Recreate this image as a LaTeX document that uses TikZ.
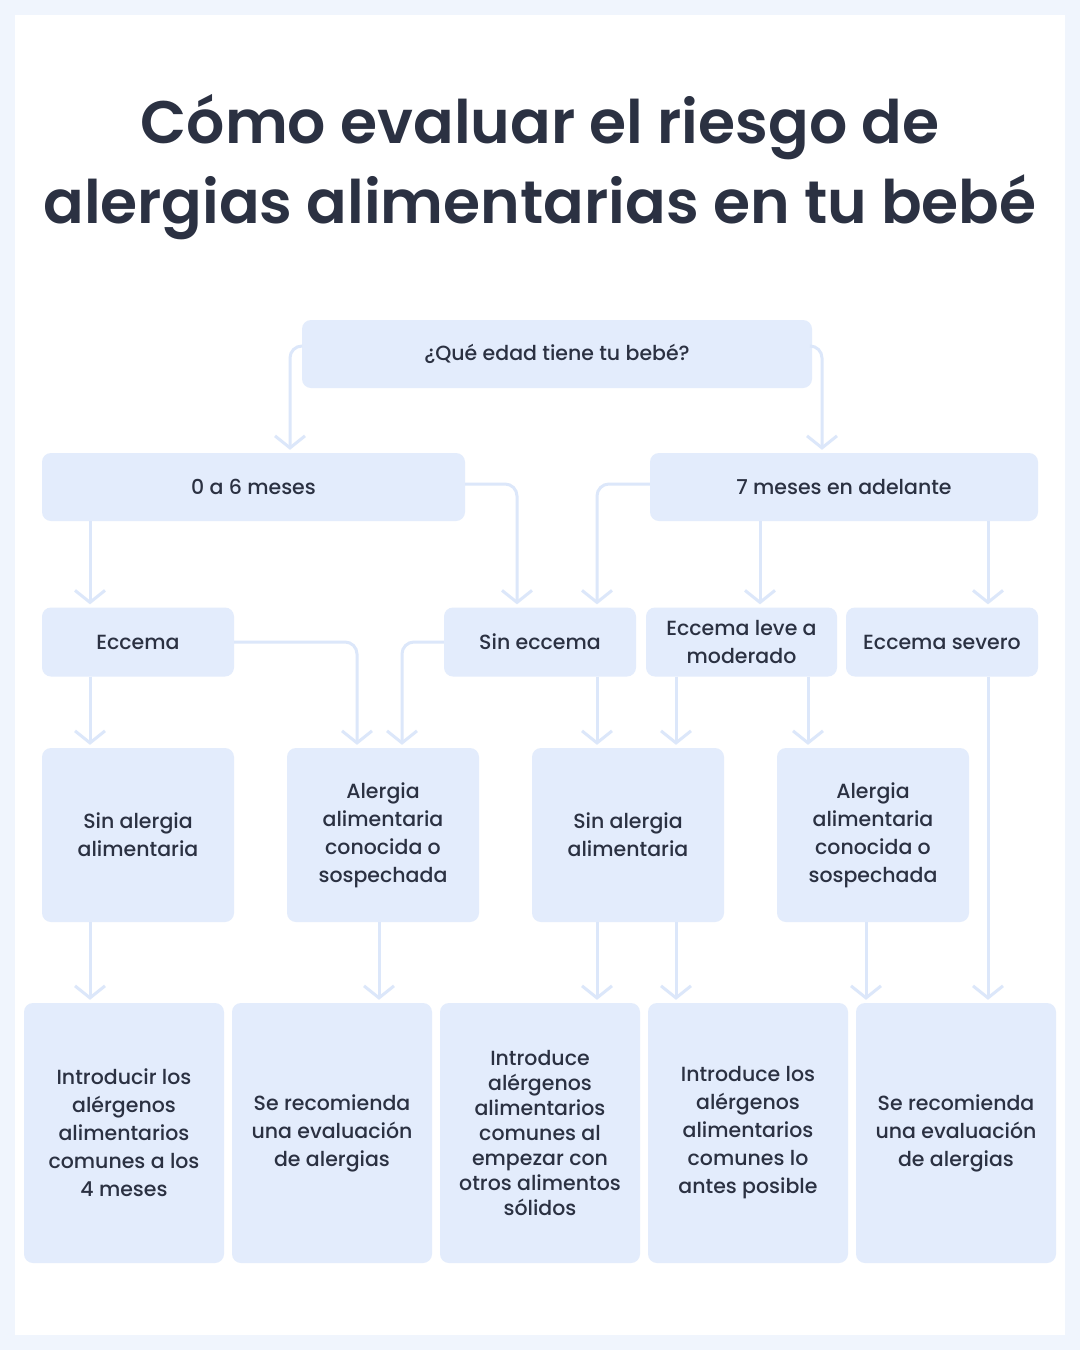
\documentclass[tikz,border=0pt]{standalone}
\usepackage{fontspec}
\setmainfont{Poppins}[UprightFont=* Medium, BoldFont=* SemiBold]
\usetikzlibrary{arrows.meta,calc,positioning}
\definecolor{boxfill}{HTML}{E3ECFC}
\definecolor{linkcol}{HTML}{DCE7FA}
\definecolor{ink}{HTML}{2B3142}
\definecolor{frame}{HTML}{F0F5FD}

\begin{document}
\begin{tikzpicture} [
    x=1pt, y=-1pt,
    box/.style={rectangle, rounded corners=9pt, fill=boxfill, text=ink, align=center,
      inner sep=0pt, font=\fontsize{20.5}{28}\selectfont},
    link/.style={draw=linkcol, line width=3pt, rounded corners=12pt, shorten >=3pt,
      -{Straight Barb[length=12pt,width=30pt]}},
    ]
    %Background
    \fill[frame] (0,0) rectangle (1080,1350);
    \fill[white] (15,15) rectangle (1065,1335);
    \node[text=ink, align=center, font=\fontsize{60}{80}\selectfont\bfseries] (title) at (540,167)
      {Cómo evaluar el riesgo de\\alergias alimentarias en tu bebé};
    %Nodes
    \node[box, minimum width=510pt, minimum height=68pt] (q)   at (557,354)  {¿Qué edad tiene tu bebé?};
    \node[box, minimum width=423pt, minimum height=68pt] (a06) at (253.5,487) {0 a 6 meses};
    \node[box, minimum width=388pt, minimum height=68pt] (a7)  at (844,487)  {7 meses en adelante};
    \node[box, minimum width=192pt, minimum height=69pt] (ecc) at (138,642)  {Eccema};
    \node[box, minimum width=192pt, minimum height=69pt] (sec) at (540,642)  {Sin eccema};
    \node[box, minimum width=191pt, minimum height=69pt] (lev) at (741.5,642) {Eccema leve a\\moderado};
    \node[box, minimum width=192pt, minimum height=69pt] (sev) at (942,642)  {Eccema severo};
    \node[box, minimum width=192pt, minimum height=174pt] (sa1) at (138,835) {Sin alergia\\alimentaria};
    \node[box, minimum width=192pt, minimum height=174pt] (al1) at (383,835) {Alergia\\alimentaria\\conocida o\\sospechada};
    \node[box, minimum width=192pt, minimum height=174pt] (sa2) at (628,835) {Sin alergia\\alimentaria};
    \node[box, minimum width=192pt, minimum height=174pt] (al2) at (873,835) {Alergia\\alimentaria\\conocida o\\sospechada};
    \node[box, minimum width=200pt, minimum height=260pt] (r1) at (124,1133) {Introducir los\\alérgenos\\alimentarios\\comunes a los\\4 meses};
    \node[box, minimum width=200pt, minimum height=260pt] (r2) at (332,1133) {Se recomienda\\una evaluación\\de alergias};
    \node[box, minimum width=200pt, minimum height=260pt, font=\fontsize{20.5}{25}\selectfont] (r3) at (540,1133)
      {Introduce\\alérgenos\\alimentarios\\comunes al\\empezar con\\otros alimentos\\sólidos};
    \node[box, minimum width=200pt, minimum height=260pt] (r4) at (748,1133) {Introduce los\\alérgenos\\alimentarios\\comunes lo\\antes posible};
    \node[box, minimum width=200pt, minimum height=260pt] (r5) at (956,1133) {Se recomienda\\una evaluación\\de alergias};
    %Lines
    \draw[link] ([yshift=8pt]q.west) -| ([xshift=36.5pt]a06.north);
    \draw[link] ([yshift=8pt]q.east) -| ([xshift=-22pt]a7.north);
    \draw[link] ([xshift=-163.5pt]a06.south) -- ([xshift=-48pt]ecc.north);
    \draw[link] ([yshift=3pt]a06.east) -| ([xshift=-23pt]sec.north);
    \draw[link] ([yshift=3pt]a7.west) -| ([xshift=57pt]sec.north);
    \draw[link] ([xshift=-84pt]a7.south) -- ([xshift=18.5pt]lev.north);
    \draw[link] ([xshift=144pt]a7.south) -- ([xshift=46pt]sev.north);
    \draw[link] ([xshift=-48pt]ecc.south) -- ([xshift=-48pt]sa1.north);
    \draw[link] (ecc.east) -| ([xshift=-26pt]al1.north);
    \draw[link] (sec.west) -| ([xshift=19pt]al1.north);
    \draw[link] ([xshift=57pt]sec.south) -- ([xshift=-31pt]sa2.north);
    \draw[link] ([xshift=-65.5pt]lev.south) -- ([xshift=48pt]sa2.north);
    \draw[link] ([xshift=66.5pt]lev.south) -- ([xshift=-65pt]al2.north);
    \draw[link] ([xshift=46pt]sev.south) -- ([xshift=32pt]r5.north);
    \draw[link] ([xshift=-48pt]sa1.south) -- ([xshift=-34pt]r1.north);
    \draw[link] ([xshift=-4pt]al1.south) -- ([xshift=47pt]r2.north);
    \draw[link] ([xshift=-31pt]sa2.south) -- ([xshift=57pt]r3.north);
    \draw[link] ([xshift=48pt]sa2.south) -- ([xshift=-72pt]r4.north);
    \draw[link] ([xshift=-7pt]al2.south) -- ([xshift=-90pt]r5.north);
\end{tikzpicture}
\end{document}
